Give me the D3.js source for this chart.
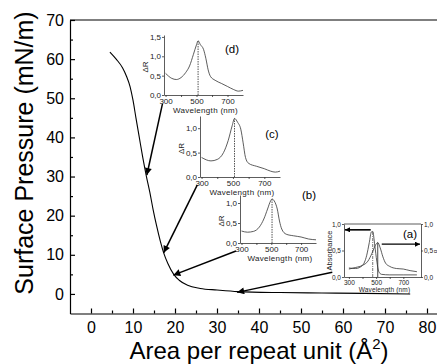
<!DOCTYPE html>
<html>
<head>
<meta charset="utf-8">
<script src="https://cdn.jsdelivr.net/npm/d3@7"></script>
<style>
  body { margin: 0; background: #fff; }
  text { font-family: "Liberation Sans", Arial, sans-serif; }
</style>
</head>
<body>
<script>
// Isotherm (area per repeat unit vs surface pressure)
const area = [4.5, 6, 7.5, 8.5, 9.3, 10, 10.7, 11.5, 12.3, 13.2, 14, 14.8, 15.6, 16.5, 17.3, 18.3, 19.7, 21, 23, 26, 30, 35, 45, 55, 65, 76];
const pressure = [61.8, 60, 57.8, 55.5, 53, 49.5, 45, 40, 35, 30, 26, 21.5, 17.5, 13.5, 10.5, 7.8, 5, 3.5, 2.2, 1.4, 1.0, 0.6, 0.35, 0.25, 0.15, 0];
const areaTicks = [0, 10, 20, 30, 40, 50, 60, 70, 80];
const areaMinorTicks = [5, 15, 25, 35, 45, 55, 65, 75];
const pressureTicks = [0, 10, 20, 30, 40, 50, 60, 70];
const pressureMinorTicks = [5, 15, 25, 35, 45, 55, 65];

// Spectra in the insets
const wlD = [300, 340, 370, 400, 430, 455, 480, 500, 510, 525, 545, 560, 575, 590, 620, 660, 700, 740, 770, 800];
const dRD = [0.56, 0.43, 0.4, 0.45, 0.58, 0.75, 1.05, 1.3, 1.4, 1.3, 1.18, 0.95, 0.65, 0.48, 0.38, 0.3, 0.22, 0.14, 0.1, 0.12];
const wlC = [300, 360, 400, 440, 470, 495, 510, 530, 550, 565, 580, 600, 650, 700, 740, 770, 800];
const dRC = [0.4, 0.33, 0.36, 0.5, 0.75, 1.05, 1.2, 1.12, 0.98, 0.7, 0.4, 0.28, 0.22, 0.17, 0.12, 0.1, 0.12];
const wlB = [300, 340, 380, 420, 450, 475, 495, 505, 520, 540, 555, 570, 600, 650, 700, 750, 800];
const dRB = [0.3, 0.27, 0.29, 0.4, 0.6, 0.85, 1.05, 1.1, 1.05, 0.85, 0.55, 0.35, 0.22, 0.18, 0.15, 0.1, 0.08];
const wlA = [300, 350, 400, 430, 450, 465, 475, 490, 505, 520, 540, 600, 700, 800];
const absA = [0.17, 0.16, 0.22, 0.4, 0.65, 0.85, 0.86, 0.6, 0.3, 0.1, 0.05, 0.04, 0.04, 0.04];
const wlAlpha = [300, 350, 400, 440, 470, 495, 512, 530, 550, 570, 600, 650, 700, 750, 800];
const alphaA = [0.15, 0.18, 0.22, 0.3, 0.45, 0.6, 0.65, 0.55, 0.38, 0.26, 0.2, 0.16, 0.15, 0.12, 0.1];
const wlTicks = [300, 400, 500, 600, 700];
const dRTicksD = [0, 0.5, 1, 1.5];
const dRTicks = [0, 0.5, 1];

// Arrows: [inset, wavelength, value] -> [area, pressure]
const arrowFrom = [['d', 280, -0.23], ['c', 273, -0.16], ['b', 263, -0.2], ['a', 178, 0.09]];
const arrowTo = [[13.3, 30.4], [17.3, 10.5], [19.6, 4.8], [34.8, 0.4]];

const width = 437;
const height = 364;
const font = '"Liberation Sans", Arial, sans-serif';

const svg = d3.select('body')
    .append('svg')
    .attr('width', width)
    .attr('height', height);

const defs = svg.append('defs');
function marker(id, w, h) {
    defs.append('marker')
        .attr('id', id)
        .attr('viewBox', '0 0 10 10')
        .attr('refX', 10).attr('refY', 5)
        .attr('markerUnits', 'userSpaceOnUse')
        .attr('markerWidth', w).attr('markerHeight', h)
        .attr('orient', 'auto')
        .append('path')
        .attr('d', 'M0,0L10,5L0,10z')
        .attr('fill', '#000');
}
marker('arrow', 9, 7);
marker('arrowSmall', 6, 5);

// Main scales
const x = d3.scaleLinear().domain([-5, 85]).range([70, 448]);
const y = d3.scaleLinear().domain([-5, 70]).range([313.5, 20]);

// Frame top line
svg.append('line')
    .attr('x1', x.range()[0]).attr('x2', x.range()[1])
    .attr('y1', y.range()[1]).attr('y2', y.range()[1])
    .attr('stroke', '#000').attr('stroke-width', 1.2);

// Axes
const xAxis = svg.append('g')
    .attr('transform', `translate(0,${y.range()[0]})`)
    .call(d3.axisBottom(x).tickValues(areaTicks).tickSize(-5).tickSizeOuter(0).tickPadding(8));
svg.append('g')
    .attr('transform', `translate(0,${y.range()[0]})`)
    .call(d3.axisBottom(x).tickValues(areaMinorTicks).tickSize(-3).tickFormat(''))
    .select('.domain').remove();

const yAxis = svg.append('g')
    .attr('transform', `translate(${x.range()[0]},0)`)
    .call(d3.axisLeft(y).tickValues(pressureTicks).tickSize(-5).tickSizeOuter(0).tickPadding(6));
svg.append('g')
    .attr('transform', `translate(${x.range()[0]},0)`)
    .call(d3.axisLeft(y).tickValues(pressureMinorTicks).tickSize(-3).tickFormat(''))
    .select('.domain').remove();

svg.selectAll('.tick line').attr('stroke-width', 1.2);
[xAxis, yAxis].forEach(a => {
    a.select('.domain').attr('stroke-width', 1.2);
    a.selectAll('text').attr('font-size', 16).attr('fill', '#000').attr('font-family', font);
});

// Axis titles
svg.append('text')
    .attr('transform', 'translate(33,153) rotate(-90)')
    .attr('text-anchor', 'middle')
    .attr('font-size', 25)
    .text('Surface Pressure (mN/m)');

const xt = svg.append('text')
    .attr('x', (x.range()[0] + x.range()[1]) / 2)
    .attr('y', 359)
    .attr('text-anchor', 'middle')
    .attr('font-size', 24);
xt.append('tspan').text('Area per repeat unit (Å');
xt.append('tspan').attr('font-size', 15).attr('dy', -10).text('2');
xt.append('tspan').attr('dy', 10).text(')');

// Isotherm curve
const line = d3.line()
    .x((d, i) => x(area[i]))
    .y(d => y(d))
    .curve(d3.curveMonotoneX);
svg.append('path')
    .datum(pressure)
    .attr('d', line)
    .attr('fill', 'none')
    .attr('stroke', '#000')
    .attr('stroke-width', 1.1);

// Insets
const comma = d => d3.format('.1f')(d).replace('.', ',');
const insets = {
    d: { wl: wlD, val: dRD, xr: [164, 243], xd: [290, 800], yr: [95, 35], yd: [0, 1.55], ticks: dRTicksD, label: '(d)', lx: 232, ly: 52.5, fs: 8 },
    c: { wl: wlC, val: dRC, xr: [200, 280], xd: [290, 800], yr: [177, 116], yd: [0, 1.25], ticks: dRTicks, label: '(c)', lx: 272, ly: 137.5, fs: 8 },
    b: { wl: wlB, val: dRB, xr: [240, 316], xd: [290, 800], yr: [243, 195], yd: [0, 1.2], ticks: dRTicks, label: '(b)', lx: 309, ly: 198.5, fs: 8 },
    a: { wl: wlA, val: absA, xr: [344, 421], xd: [264, 830], yr: [277, 224], yd: [0, 1], ticks: dRTicks, label: '(a)', lx: 410, ly: 237.5, fs: 6.5 }
};

Object.entries(insets).forEach(([key, s]) => {
    s.x = d3.scaleLinear().domain(s.xd).range(s.xr);
    s.y = d3.scaleLinear().domain(s.yd).range(s.yr);
    const g = svg.append('g').attr('font-size', s.fs);

    const ax = g.append('g')
        .attr('transform', `translate(0,${s.yr[0]})`)
        .call(d3.axisBottom(s.x).tickValues(wlTicks).tickSize(2).tickSizeOuter(0).tickPadding(1)
            .tickFormat(d => d % 200 === 100 ? d : ''));
    const ay = g.append('g')
        .attr('transform', `translate(${s.xr[0]},0)`)
        .call(d3.axisLeft(s.y).tickValues(s.ticks).tickSize(2).tickSizeOuter(0).tickPadding(1)
            .tickFormat(comma));
    [ax, ay].forEach(a => {
        a.selectAll('path, line').attr('stroke', '#333').attr('stroke-width', 0.8);
        a.selectAll('text').attr('font-size', s.fs).attr('fill', '#222').attr('font-family', font);
    });

    g.append('text')
        .attr('x', (s.xr[0] + s.xr[1]) / 2 + 2)
        .attr('y', s.yr[0] + s.fs * 2.3)
        .attr('text-anchor', 'middle')
        .attr('letter-spacing', key === 'a' ? 0.15 : 0.3)
        .attr('fill', '#222')
        .text('Wavelength (nm)');

    g.append('text')
        .attr('x', s.lx).attr('y', s.ly)
        .attr('text-anchor', 'middle')
        .attr('font-size', 11.5)
        .text(s.label);

    const specLine = (wl) => d3.line()
        .x((d, i) => s.x(wl[i]))
        .y(d => s.y(d))
        .curve(d3.curveMonotoneX);

    g.append('path')
        .datum(s.val)
        .attr('d', specLine(s.wl))
        .attr('fill', 'none')
        .attr('stroke', '#333')
        .attr('stroke-width', 0.8);

    const ip = d3.maxIndex(s.val);
    g.append('line')
        .attr('x1', s.x(s.wl[ip])).attr('x2', s.x(s.wl[ip]))
        .attr('y1', s.y(0)).attr('y2', s.y(s.val[ip]))
        .attr('stroke', '#555')
        .attr('stroke-width', key === 'a' ? 0.8 : 1)
        .attr('stroke-dasharray', key === 'a' ? '3,1,1,1' : '1.5,1');

    if (key !== 'a') {
        g.append('text')
            .attr('transform', `translate(${s.xr[0] - 16},${(s.yr[0] + s.yr[1]) / 2 + 2}) rotate(-90)`)
            .attr('text-anchor', 'middle')
            .attr('fill', '#222')
            .text('ΔR');
    } else {
        // right axis (alpha) and frame
        g.append('line')
            .attr('x1', s.xr[0]).attr('x2', s.xr[1])
            .attr('y1', s.yr[1]).attr('y2', s.yr[1])
            .attr('stroke', '#333').attr('stroke-width', 0.8);
        const ar = g.append('g')
            .attr('transform', `translate(${s.xr[1]},0)`)
            .call(d3.axisRight(s.y).tickValues(s.ticks).tickSize(2).tickSizeOuter(0).tickPadding(1)
                .tickFormat(comma));
        ar.selectAll('path, line').attr('stroke', '#333').attr('stroke-width', 0.8);
        ar.selectAll('text').attr('font-size', s.fs).attr('fill', '#222').attr('font-family', font);

        g.append('text')
            .attr('transform', `translate(${s.xr[0] - 12},${(s.yr[0] + s.yr[1]) / 2}) rotate(-90)`)
            .attr('text-anchor', 'middle')
            .attr('font-size', 7.5)
            .attr('fill', '#222')
            .text('Absorbance');
        g.append('text')
            .attr('transform', `translate(436.5,${s.y(0.5) + 1}) rotate(-90)`)
            .attr('text-anchor', 'middle')
            .attr('font-size', 6)
            .attr('fill', '#222')
            .text('α');

        g.append('path')
            .datum(alphaA)
            .attr('d', specLine(wlAlpha))
            .attr('fill', 'none')
            .attr('stroke', '#333')
            .attr('stroke-width', 0.8);
        const iq = d3.maxIndex(alphaA);
        g.append('line')
            .attr('x1', s.x(wlAlpha[iq])).attr('x2', s.x(wlAlpha[iq]))
            .attr('y1', s.y(0)).attr('y2', s.y(alphaA[iq]))
            .attr('stroke', '#333').attr('stroke-width', 0.9);

        // arrows to the left and right axes
        g.append('line')
            .attr('x1', s.x(wlA[ip]) - 2).attr('x2', s.xr[0] + 1)
            .attr('y1', s.y(absA[ip] + 0.03)).attr('y2', s.y(absA[ip] + 0.03))
            .attr('stroke', '#000').attr('stroke-width', 1.6)
            .attr('marker-end', 'url(#arrowSmall)');
        g.append('line')
            .attr('x1', s.x(wlAlpha[iq]) + 4).attr('x2', s.xr[1] - 1)
            .attr('y1', s.y(alphaA[iq] - 0.03)).attr('y2', s.y(alphaA[iq] - 0.03))
            .attr('stroke', '#000').attr('stroke-width', 1.2)
            .attr('marker-end', 'url(#arrowSmall)');
    }
});

// Arrows from insets to the isotherm
svg.append('g')
    .selectAll('line')
    .data(arrowFrom)
    .join('line')
    .attr('x1', d => insets[d[0]].x(d[1]))
    .attr('y1', d => insets[d[0]].y(d[2]))
    .attr('x2', (d, i) => x(arrowTo[i][0]))
    .attr('y2', (d, i) => y(arrowTo[i][1]))
    .attr('stroke', '#000')
    .attr('stroke-width', 1.5)
    .attr('marker-end', 'url(#arrow)');
</script>
</body>
</html>
